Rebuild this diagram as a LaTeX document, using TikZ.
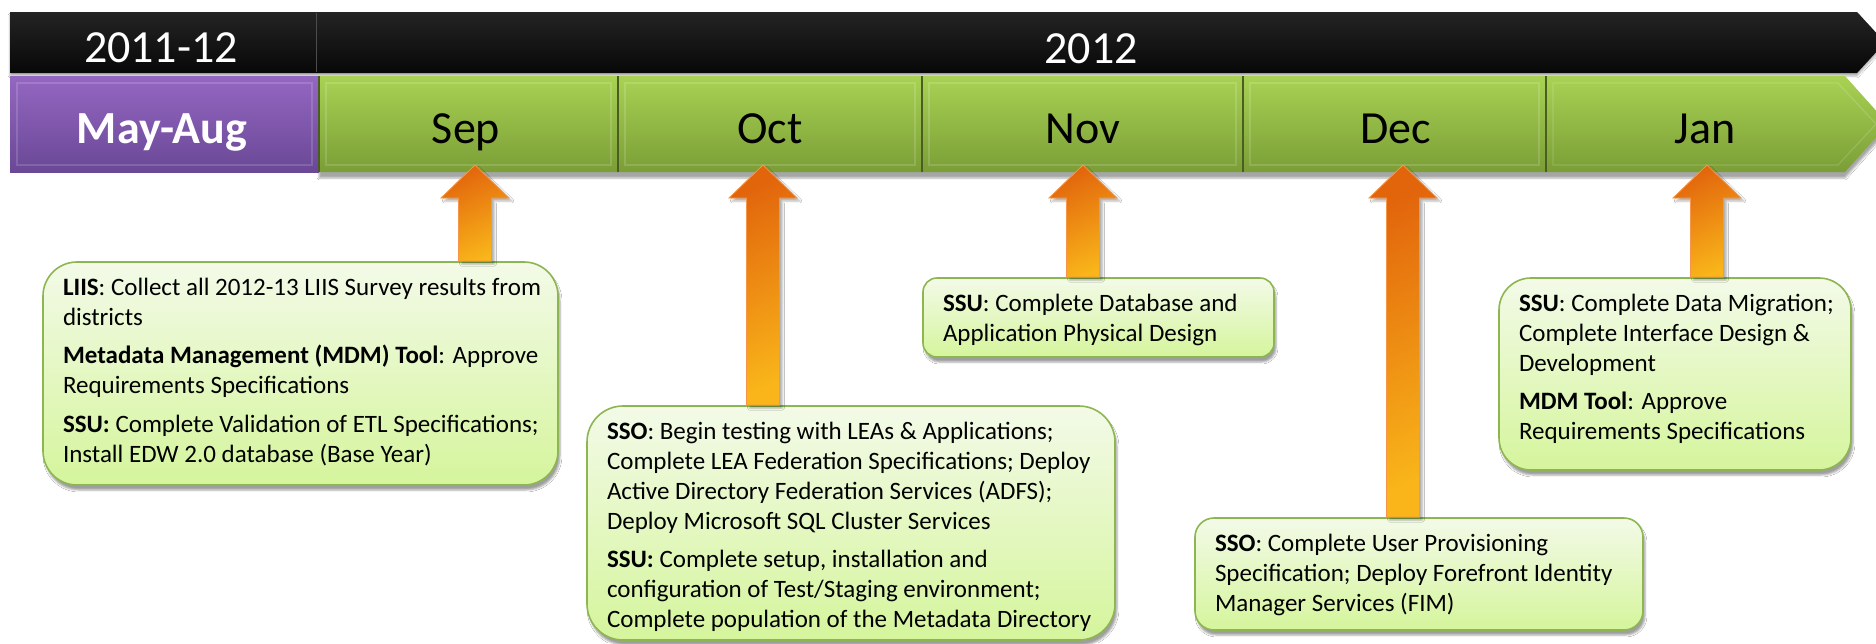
\documentclass[tikz,border=0pt]{standalone}
\usepackage{fontspec}
\setmainfont{Carlito}
\usetikzlibrary{calc,shadows,shadows.blur}
\definecolor{boxtop}{HTML}{F3FAE8}
\definecolor{boxbot}{HTML}{D5F59C}
\definecolor{boxline}{HTML}{8DB650}
\definecolor{grtop}{HTML}{A9D254}
\definecolor{grbot}{HTML}{7A9E36}
\definecolor{grline}{HTML}{4A5E24}
\definecolor{putop}{HTML}{9467C2}
\definecolor{pubot}{HTML}{6A4896}
\definecolor{arA}{HTML}{E2650C}
\definecolor{arB}{HTML}{F9B51A}
\definecolor{arline}{HTML}{F79646}
\newcommand\boxtxt[3]{\parbox[c][#2][t]{#1}{\fontsize{25}{30}\selectfont\setlength{\parskip}{8.5pt}\raggedright\leftskip=20pt\rule{0pt}{33pt}#3}}
\newcommand\blockarrow[2]{\path[arrowbody] let \p1=(#1), \p2=(#2) in (\x1,\y1) -- (\x1+34pt,\y1-33pt) -- (\x1+16.5pt,\y1-33pt) -- (\x1+16.5pt,\y2+0.9pt) -- (\x1-16.5pt,\y2+0.9pt) -- (\x1-16.5pt,\y1-33pt) -- (\x1-34pt,\y1-33pt) -- cycle;}
\tikzset{
 arrowbody/.style={top color=arA, bottom color=arB, shading angle=25, draw=arline, line width=0.8pt, blur shadow={shadow xshift=3pt, shadow yshift=-3pt, shadow opacity=30}},
 infobox/.style={draw=boxline, line width=1.6pt, rounded corners=#1, top color=boxtop, bottom color=boxbot, inner sep=0pt, outer sep=0pt, anchor=north west, blur shadow={shadow xshift=2pt, shadow yshift=-5pt, shadow opacity=38}},
 yeartext/.style={anchor=base, text=white, font=\fontsize{46}{50}\selectfont},
 monthtext/.style={anchor=base, text=black, font=\fontsize{46}{50}\selectfont},
 divider/.style={draw=grline, line width=1.5pt},
 bevel/.style={draw=white, opacity=0.15, line width=1.2pt},
}
\begin{document}
\begin{tikzpicture}[x=1pt,y=-1pt]
\useasboundingbox (0,0) rectangle (1876,643);
\fill[white] (0,0) rectangle (1876,643);

% ---- bars
\begin{scope}
\clip (0,0) rectangle (1876,643);
\shade[top color=black!86, middle color=black, bottom color=black!97, blur shadow={shadow xshift=0pt, shadow yshift=-3pt, shadow opacity=30}]
  (10,12) -- (1857,12) -- (1885,42.5) -- (1857,73) -- (10,73) -- cycle;
\draw[black!70, line width=1pt] (316,13) -- (316,72);
\shade[top color=grtop, bottom color=grbot, blur shadow={shadow xshift=0pt, shadow yshift=-6pt, shadow opacity=35}]
  (319,76) -- (1845,76) -- (1888,124) -- (1845,172) -- (319,172) -- cycle;
\shade[top color=putop, bottom color=pubot] (10,76) rectangle (319,172);
\draw[bevel] (17,83) rectangle (312,165);
\draw[bevel] (326,83) rectangle (611,165);
\draw[bevel] (625,83) rectangle (915,165);
\draw[bevel] (929,83) rectangle (1236,165);
\draw[bevel] (1250,83) rectangle (1539,165);
\draw[bevel] (1553,83) -- (1838,83) -- (1876,124) -- (1838,165) -- (1553,165) -- cycle;
\draw[divider] (319,76) -- (319,172);
\draw[divider] (618,76) -- (618,172);
\draw[divider] (922,76) -- (922,172);
\draw[divider] (1243,76) -- (1243,172);
\draw[divider] (1546,76) -- (1546,172);
\end{scope}

\node[yeartext] (y1) at (161,62) {2011-12};
\node[yeartext] (y2) at (1091,63) {2012};
\node[yeartext, font=\fontsize{46}{50}\selectfont\bfseries] (mayaug) at (162,143) {May-Aug};
\node[monthtext] (sep) at (466,143) {Sep};
\node[monthtext] (oct) at (770,143) {Oct};
\node[monthtext] (nov) at (1083,143) {Nov};
\node[monthtext] (dec) at (1396,143) {Dec};
\node[monthtext] (jan) at (1705,143) {Jan};

\coordinate (tipSep) at (475,165);
\coordinate (tipOct) at (763,165);
\coordinate (tipNov) at (1083,165);
\coordinate (tipDec) at (1403,165);
\coordinate (tipJan) at (1707,165);

% ---- boxes
\node[infobox=34pt] (b1) at (43,262) {\boxtxt{515pt}{223pt}{%
\textbf{LIIS}: Collect all 2012-13 LIIS Survey results from\\ districts\par
\textbf{Metadata Management (MDM) Tool}: Approve\\ Requirements Specifications\par
\textbf{SSU:} Complete Validation of ETL Specifications;\\ Install EDW 2.0 database (Base Year)}};

\node[infobox=36pt] (b2) at (587,406) {\boxtxt{528pt}{234pt}{%
\textbf{SSO}: Begin testing with LEAs \& Applications;\\ Complete LEA Federation Specifications; Deploy\\ Active Directory Federation Services (ADFS);\\ Deploy Microsoft SQL Cluster Services\par
\textbf{SSU:} Complete setup, installation and\\ configuration of Test/Staging environment;\\ Complete population of the Metadata Directory}};

\node[infobox=14pt] (b3) at (923,278) {\boxtxt{351pt}{79pt}{%
\textbf{SSU}: Complete Database and\\ Application Physical Design}};

\node[infobox=19pt] (b4) at (1195,518) {\boxtxt{448pt}{112pt}{%
\textbf{SSO}: Complete User Provisioning\\ Specification; Deploy Forefront Identity\\ Manager Services (FIM)}};

\node[infobox=32pt] (b5) at (1499,278) {\boxtxt{352pt}{192pt}{%
\textbf{SSU}: Complete Data Migration;\\ Complete Interface Design \&\\ Development\par
\textbf{MDM Tool}: Approve\\ Requirements Specifications}};

% ---- arrows
\blockarrow{tipSep}{b1.north}
\blockarrow{tipOct}{b2.north}
\blockarrow{tipNov}{b3.north}
\blockarrow{tipDec}{b4.north}
\blockarrow{tipJan}{b5.north}
\end{tikzpicture}
\end{document}
